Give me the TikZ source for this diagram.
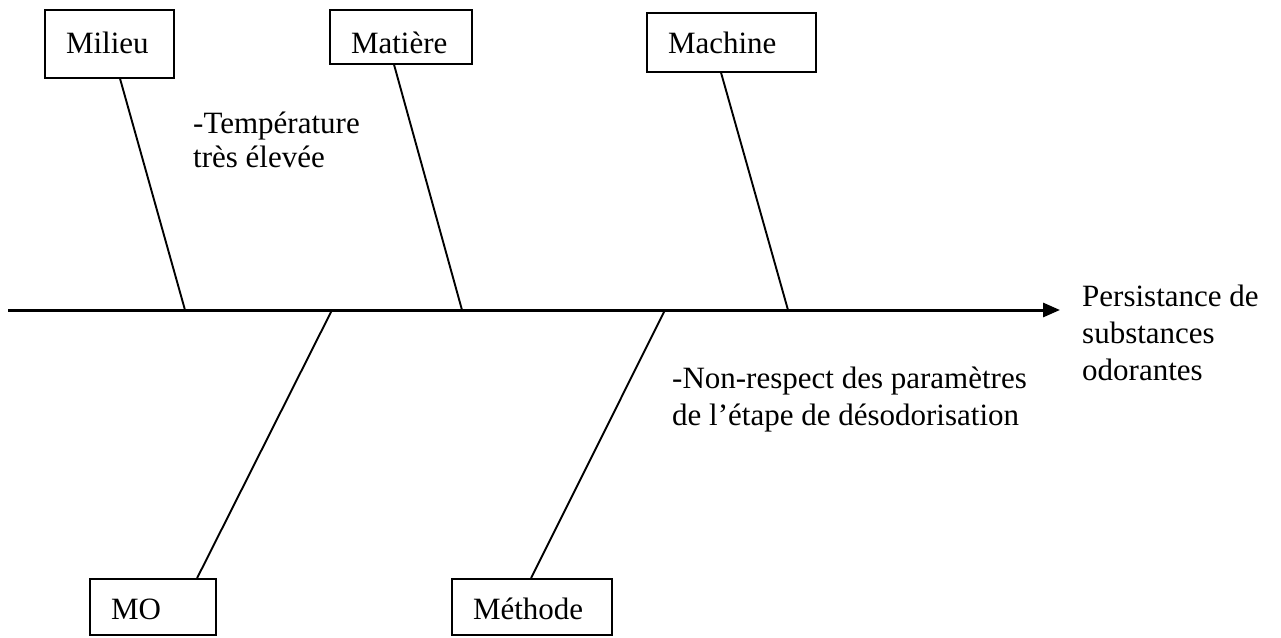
\documentclass[tikz,border=0pt]{standalone}
\usepackage{fontspec}
\setmainfont{Liberation Serif}
\usetikzlibrary{arrows.meta,calc}
\begin{document}
\begin{tikzpicture}[x=1pt,y=-1pt,
  cause/.style={draw, line width=1.8pt, inner xsep=21pt, inner ysep=0pt,
    align=left, font=\fontsize{31}{37}\selectfont,
    text height=21pt, text depth=0pt},
  bone/.style={line width=1.9pt},
  spine/.style={line width=3pt, -{Triangle[length=17pt,width=14pt]}},
  note/.style={align=left, inner sep=0pt, anchor=base west}]
\useasboundingbox (0,0) rectangle (1281,637);

% main spine
\coordinate (tail) at (8,310);
\coordinate (head) at (1060,310);
\coordinate (j1) at (185,310);
\coordinate (j2) at (462,310);
\coordinate (j3) at (788,310);
\coordinate (j4) at (332,310);
\coordinate (j5) at (665,310);
\draw[spine] (tail) -- (head);

% cause boxes
\node[cause, minimum width=129pt, minimum height=68pt, text width=87pt, text height=18pt] (milieu) at (109.5,44) {Milieu};
\node[cause, minimum width=142pt, minimum height=54pt, text width=100pt, text height=32pt] (matiere) at (401,37) {Matière};
\node[cause, minimum width=169pt, minimum height=59pt, text width=127pt, text height=21pt] (machine) at (731.5,42.5) {Machine};
\node[cause, minimum width=126pt, minimum height=56pt, text width=84pt, text height=24pt] (mo) at (153,607) {MO};
\node[cause, minimum width=160pt, minimum height=56pt, text width=118pt, text height=24pt] (methode) at (532,607) {Méthode};

% bones
\draw[bone] ($(milieu.south west)+(76,0)$) -- (j1);
\draw[bone] ($(matiere.south west)+(65,0)$) -- (j2);
\draw[bone] ($(machine.south west)+(75,0)$) -- (j3);
\draw[bone] ($(mo.north west)+(108,0)$) -- (j4);
\draw[bone] ($(methode.north west)+(80,0)$) -- (j5);

% notes and effect
\node[note, font=\fontsize{31}{34}\selectfont] (temp) at (193,167) {-Température\\très élevée};
\node[note, font=\fontsize{31}{37}\selectfont] (param) at (672,425) {-Non-respect des paramètres\\de l’étape de désodorisation};
\node[note, font=\fontsize{31}{37}\selectfont] (effect) at (1082,380) {Persistance de\\substances\\odorantes};
\end{tikzpicture}
\end{document}
